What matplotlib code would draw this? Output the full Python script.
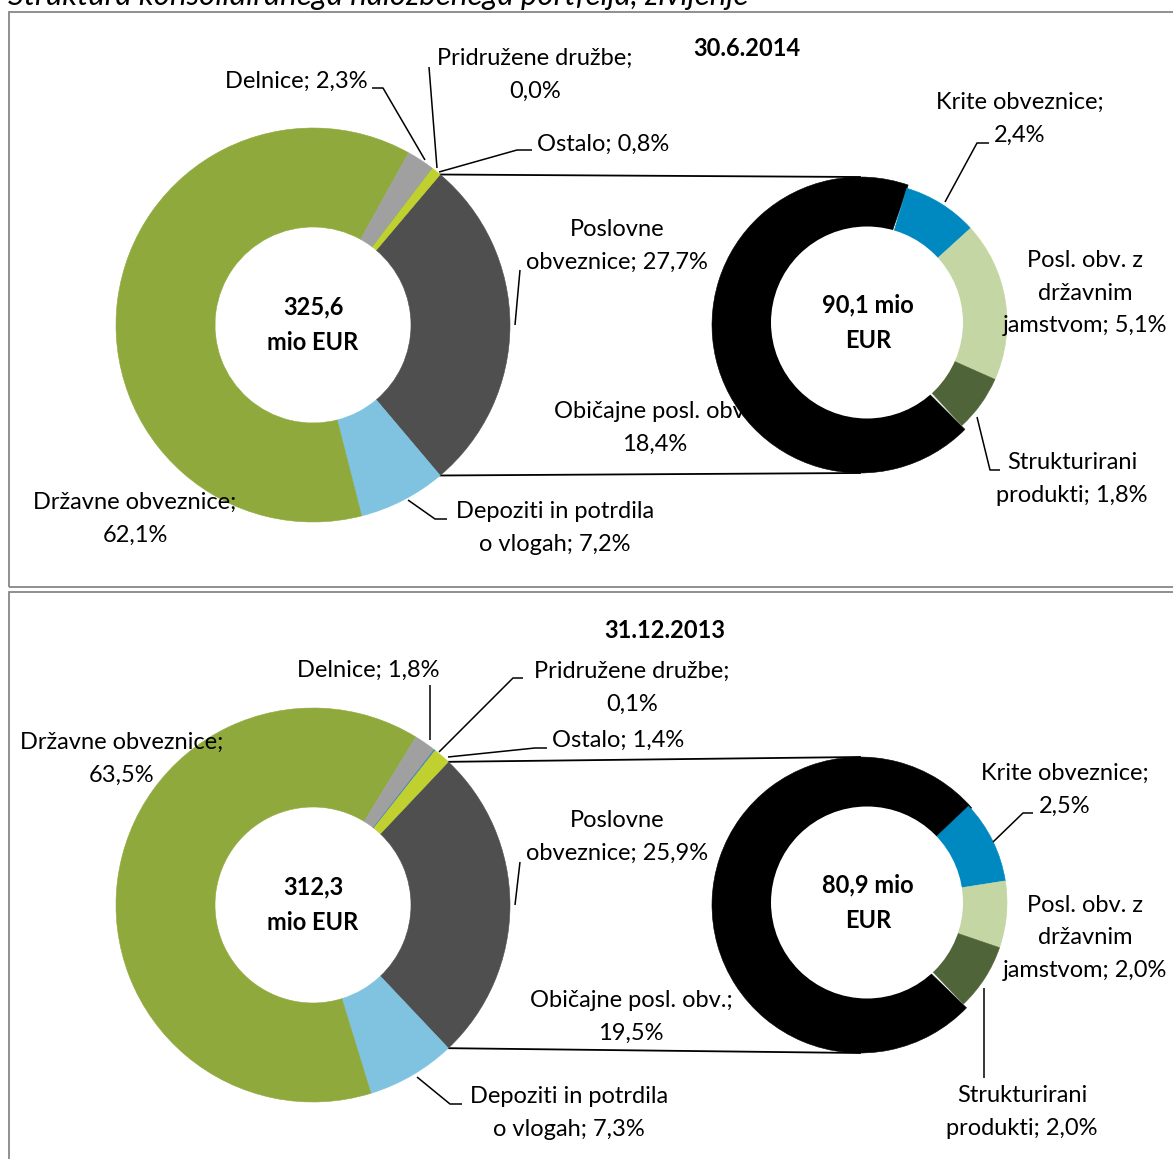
import matplotlib
matplotlib.use("Agg")
import matplotlib.pyplot as plt
from matplotlib.patches import Rectangle, Circle
import numpy as np

# ---------------- data ----------------
title = "Struktura konsolidiranega naložbenega portfelja, življenje"
dates = ["30.6.2014", "31.12.2013"]

big_names = ["Poslovne obveznice", "Depoziti in potrdila o vlogah", "Državne obveznice",
             "Delnice", "Pridružene družbe", "Ostalo"]
big_2014 = [27.7, 7.2, 62.1, 2.3, 0.0, 0.8]
big_2013 = [25.9, 7.3, 63.5, 1.8, 0.1, 1.4]
big_totals = ["325,6", "312,3"]

small_names = ["Krite obveznice", "Posl. obv. z državnim jamstvom",
               "Strukturirani produkti", "Običajne posl. obv."]
small_2014 = [2.4, 5.1, 1.8, 18.4]
small_2013 = [2.5, 2.0, 2.0, 19.5]
small_totals = ["90,1", "80,9"]

big_colors = ["#4f4f4f", "#7fc3e0", "#8fa93d", "#a0a0a0", "#3f7fc0", "#bfd02f"]
small_colors = ["#0088c1", "#c4d6a3", "#4f6539", "#000000"]

# label templates (line breaks as in the original)
big_tpl = ["Poslovne\nobveznice; {}", "Depoziti in potrdila\no vlogah; {}",
           "Državne obveznice;\n{}", "Delnice; {}", "Pridružene družbe;\n{}", "Ostalo; {}"]
small_tpl = ["Krite obveznice;\n{}", "Posl. obv. z\ndržavnim\njamstvom; {}",
             "Strukturirani\nprodukti; {}", "Običajne posl. obv.;\n{}"]

# ---------------- figure ----------------
W, H = 1173, 1159
plt.rcParams['font.family'] = ['Lato', 'DejaVu Sans']
FS = 17
LS = 1.68
fig = plt.figure(figsize=(W / 100, H / 100), dpi=100)
ax = fig.add_axes([0, 0, 1, 1])


def Y(y):
    return H - y


def pct(v):
    return f"{v:.1f}%".replace(".", ",")


def txt(x, y, s, bold=False, z=6, **kw):
    ax.text(x, Y(y), s, ha="center", va="center", fontsize=FS, linespacing=LS,
            fontweight="bold" if bold else "normal", zorder=z, color="black", **kw)


def line(pts, z=5):
    xs = [p[0] for p in pts]
    ys = [Y(p[1]) for p in pts]
    ax.plot(xs, ys, color="black", lw=1.1, zorder=z, solid_capstyle="butt")


# panel layout
panels = [
    dict(dy=0, big=big_2014, small=small_2014, bt=big_totals[0], st=small_totals[0],
         date=dates[0], date_pos=(747, 49), small_start=73.5,
         big_lab=[(617, 246), (555, 528), (135, 519), (296, 81), (535, 75), (603, 144)],
         small_lab=[(1020, 119), (1085, 293), (1072, 479), (655, 428)],
         leaders=[[(372, 88), (383, 88), (425, 160)],
                  [(429, 67), (437, 168)],
                  [(532, 150), (517, 150), (439, 172)],
                  [(520, 270), (515, 325)],
                  [(447, 519), (435, 519), (408, 500)],
                  [(989, 143), (977, 143), (945, 202)],
                  [(1000, 470), (990, 470), (977, 417)]]),
    dict(dy=580, big=big_2013, small=small_2013, bt=big_totals[1], st=small_totals[1],
         date=dates[1], date_pos=(665, 630), small_start=43.5,
         big_lab=[(617, 837), (569, 1113), (122, 759), (368, 670), (632, 688), (618, 740)],
         small_lab=[(1065, 790), (1085, 938), (1022, 1112), (631, 1017)],
         leaders=[[(430, 685), (430, 740)],
                  [(523, 678), (513, 678), (439, 752)],
                  [(547, 748), (535, 748), (448, 757)],
                  [(520, 862), (515, 905)],
                  [(462, 1104), (450, 1104), (417, 1077)],
                  [(1033, 813), (1023, 813), (993, 842)],
                  [(984, 988), (984, 1078)]]),
]

BIG_C = (313, 325)
BIG_R, BIG_W = 197, 99
SM_C = (867, 322.5)
SM_R, SM_IN = 140, 96
BLACK_C = (860, 325)
BLACK_R = 148

for p in panels:
    dy = p["dy"]
    # panel frame
    ax.add_patch(Rectangle((9, Y(587 + dy)), 1200, 575, fill=False,
                           edgecolor="#878787", lw=1.3, zorder=1))
    # big donut
    vals = p["big"]
    start = vals[0] / sum(vals) * 360 / 2
    bw, _ = ax.pie(vals, colors=big_colors, startangle=start, counterclock=False,
                   radius=BIG_R, center=(BIG_C[0], Y(BIG_C[1] + dy)),
                   wedgeprops=dict(width=BIG_W, linewidth=0.4),
                   frame=True)
    for w in bw:
        w.set_zorder(3)
        w.set_edgecolor(w.get_facecolor())
    # big labels
    for (x, y), tpl, v in zip(p["big_lab"], big_tpl, vals):
        txt(x, y, tpl.format(pct(v)))
    txt(BIG_C[0], BIG_C[1] + dy, f"{p['bt']}\nmio EUR", bold=True)

    # small donut
    svals = p["small"]
    sw, _ = ax.pie(svals, colors=small_colors, startangle=p["small_start"],
                   counterclock=False, radius=SM_R,
                   center=(SM_C[0], Y(SM_C[1] + dy)),
                   wedgeprops=dict(width=SM_R - SM_IN + 4, linewidth=0.4),
                   frame=True)
    for w in sw:
        w.set_zorder(4)
        w.set_edgecolor(w.get_facecolor())
    blk = sw[-1]
    blk.set_center((BLACK_C[0], Y(BLACK_C[1] + dy)))
    blk.set_radius(BLACK_R)
    blk.set_width(BLACK_R - 80)
    blk.set_theta1(blk.theta1 - 2.5)
    blk.set_theta2(blk.theta2 + 2.5)
    blk.set_zorder(3.5)
    ax.add_patch(Circle((SM_C[0], Y(SM_C[1] + dy)), SM_IN, facecolor="white",
                        edgecolor="none", zorder=4.5))
    for i, ((x, y), tpl, v) in enumerate(zip(p["small_lab"], small_tpl, svals)):
        txt(x, y, tpl.format(pct(v)), z=(3 if i == 3 else 6))
    txt(SM_C[0] + 1, SM_C[1] + dy, f"{p['st']} mio\nEUR", bold=True)

    # date
    txt(p["date_pos"][0], p["date_pos"][1], p["date"], bold=True)

    # connector lines from the Poslovne wedge edges to the small donut
    pw = bw[0]
    cx, cy = pw.center
    for ang, ty in ((pw.theta2, BLACK_C[1] - BLACK_R), (pw.theta1, BLACK_C[1] + BLACK_R)):
        sx = cx + BIG_R * np.cos(np.radians(ang))
        sy = cy + BIG_R * np.sin(np.radians(ang))
        ax.plot([sx, BLACK_C[0]], [sy, Y(ty + dy)], color="black", lw=1.3, zorder=2)

    for pts in p["leaders"]:
        line(pts)

# title (cut at the top like the original)
ax.text(8, Y(5), title, ha="left", va="baseline", fontsize=22.5, style="italic", zorder=6)

ax.set_xlim(0, W)
ax.set_ylim(0, H)
ax.set_aspect("equal", adjustable="datalim")
ax.axis("off")
fig.savefig("out.png", dpi=100)
